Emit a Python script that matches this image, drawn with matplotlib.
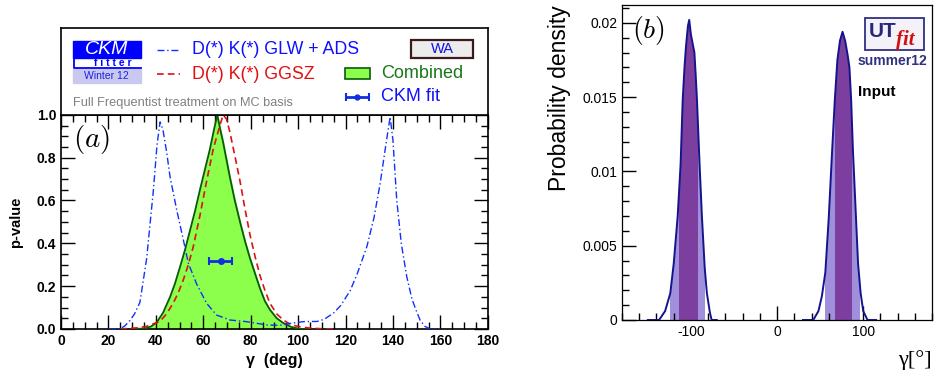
import matplotlib.pyplot as plt
import numpy as np
from matplotlib.patches import Rectangle, Polygon
from matplotlib.ticker import MultipleLocator

plt.rcParams['font.family'] = ['Liberation Sans', 'DejaVu Sans']
plt.rcParams['mathtext.fontset'] = 'cm'
plt.rcParams['axes.unicode_minus'] = False

# (a) CKMfitter p-value curves, gamma in degrees
glw_x = [20, 24.9, 27, 29.1, 31, 33.3, 36.1, 38.9, 40.5, 41.8, 43, 44.5, 46, 48.8, 51.6, 53.7, 57.2,
         61.4, 65.6, 71.2, 78.3, 86.7, 92, 97.9, 102, 105, 108, 111, 115, 118, 122, 125, 129, 132,
         134.6, 137, 138.8, 140, 141.6, 143.5, 145.8, 148, 150, 151.5, 153.5, 155.7, 160]
glw_y = [0, 0, 0.015, 0.04, 0.07, 0.125, 0.327, 0.64, 0.86, 0.967, 0.93, 0.83, 0.71, 0.556, 0.416, 0.307,
         0.21, 0.12, 0.065, 0.042, 0.034, 0.019, 0.017, 0.028, 0.034, 0.035, 0.035, 0.045, 0.075, 0.11,
         0.18, 0.26, 0.385, 0.52, 0.68, 0.86, 0.99, 0.88, 0.6, 0.4, 0.245, 0.14, 0.08, 0.04, 0.012, 0, 0]

ggsz_x = [25, 31.9, 36, 41.7, 44.5, 47.3, 49.5, 51.6, 53.7, 55.8, 58.6, 61.4, 64.2, 67, 68.4, 69.8,
          71.2, 73.3, 75.5, 77.6, 79.7, 81.8, 83.9, 86, 88.1, 91, 93.7, 97, 100.8, 105, 110, 115]
ggsz_y = [0, 0.005, 0.012, 0.035, 0.07, 0.12, 0.17, 0.23, 0.3, 0.385, 0.53, 0.69, 0.84, 0.95, 1.0, 0.98,
          0.92, 0.81, 0.69, 0.56, 0.44, 0.34, 0.25, 0.18, 0.12, 0.07, 0.042, 0.02, 0.01, 0.004, 0.001, 0]

comb_x = [30, 35.4, 38, 40.3, 43, 46, 48, 50.2, 52.3, 54.4, 56.5, 58.6, 60.7, 62.8, 64.5, 65.9, 67.2,
          68.4, 69.8, 71.2, 73.3, 75.5, 77.6, 79.7, 81.8, 83.9, 86, 88.1, 91, 93.7, 97, 100.8, 105]
comb_y = [0, 0.002, 0.012, 0.03, 0.075, 0.15, 0.21, 0.29, 0.37, 0.46, 0.55, 0.65, 0.745, 0.84, 0.93, 1.0,
          0.93, 0.87, 0.79, 0.71, 0.6, 0.5, 0.41, 0.33, 0.26, 0.19, 0.13, 0.09, 0.05, 0.028, 0.01, 0.0, 0.0]

ckm_fit = 67.3
ckm_lo, ckm_hi = 62.6, 72.3
ckm_level = 0.317

# (b) UTfit probability density
pk1_x = [-150, -137, -130, -124, -120, -115.4, -112, -109.6, -107.5, -105.8, -103.5, -102, -100, -98,
         -96, -94.5, -93, -90, -87.3, -84, -81.5, -78, -76, -70]
pk1_y = [0, 0, 0.0006, 0.0018, 0.0038, 0.007, 0.0105, 0.0148, 0.017, 0.0184, 0.0198, 0.0202, 0.0192,
         0.0186, 0.018, 0.0165, 0.0148, 0.0105, 0.007, 0.0035, 0.0018, 0.0005, 0, 0]
pk2_x = [30, 42, 48, 52, 56, 60, 64, 67, 70, 73, 76, 79, 82, 84, 86, 88, 91.5, 94, 97, 100, 105, 115]
pk2_y = [0, 0, 0.0006, 0.0016, 0.0032, 0.0069, 0.0115, 0.0148, 0.0175, 0.0188, 0.0194, 0.0188, 0.0178,
         0.017, 0.0148, 0.0115, 0.007, 0.0038, 0.0018, 0.0006, 0, 0]
band68 = [(-113.6, -92.2), (66.7, 87.2)]
band95 = [(-124.4, -83.3), (56.2, 96.5)]

fig = plt.figure(figsize=(9.34, 3.79), dpi=100)

# ---------------- panel (a) ----------------
ax = fig.add_axes([0.0653, 0.132, 0.457, 0.565])
ax.fill_between(comb_x, comb_y, color='#8cff4c', zorder=1)
ax.plot(comb_x, comb_y, color='#0a5a0a', lw=1.3, zorder=3)
ax.plot(ggsz_x, ggsz_y, color='#e01010', lw=1.2, ls=(0, (4, 2.5)), zorder=4)
ax.plot(glw_x, glw_y, color='#1030ff', lw=1.0, ls=(0, (5, 2, 1, 2)), zorder=4)
ax.errorbar([ckm_fit], [ckm_level], xerr=[[ckm_fit - ckm_lo], [ckm_hi - ckm_fit]], fmt='o',
            color='#1030e0', ms=4, capsize=3, lw=2, capthick=1.5, zorder=5)
ax.set_xlim(0, 180)
ax.set_ylim(0, 1)
ax.xaxis.set_major_locator(MultipleLocator(20))
ax.xaxis.set_minor_locator(MultipleLocator(5))
ax.yaxis.set_major_locator(MultipleLocator(0.2))
ax.yaxis.set_minor_locator(MultipleLocator(0.05))
ax.yaxis.set_major_formatter(plt.FormatStrFormatter('%.1f'))
ax.tick_params(which='both', direction='in', top=True, right=True, width=1)
ax.tick_params(which='major', length=10, labelsize=10)
ax.tick_params(which='minor', length=5)
for lab in ax.get_xticklabels() + ax.get_yticklabels():
    lab.set_fontweight('bold')
for s in ax.spines.values():
    s.set_linewidth(1.2)
ax.set_xlabel('γ  (deg)', fontsize=11.5, fontweight='bold', labelpad=4)
ax.set_ylabel('p-value', fontsize=10.5, fontweight='bold', labelpad=10)
ax.text(0.028, 0.883, r'$(a)$', transform=ax.transAxes, fontsize=21, va='center', ha='left')

# header / legend box above panel (a)
hd = fig.add_axes([0.0653, 0.6966, 0.457, 0.2296])
hd.set_xlim(0, 1)
hd.set_ylim(0, 1)
hd.set_xticks([])
hd.set_yticks([])
for s in hd.spines.values():
    s.set_linewidth(1.2)
hd.add_patch(Rectangle((0.028, 0.655), 0.159, 0.196, color='#0000ff'))
hd.text(0.107, 0.75, 'CKM', color='white', fontsize=14, style='italic', ha='center', va='center')
hd.plot([0.031, 0.031, 0.187], [0.655, 0.54, 0.54], color='#0000ff', lw=1.3)
hd.text(0.122, 0.6, 'f i t t e r', color='#0000ff', fontsize=7.5, fontweight='bold', ha='center', va='center')
hd.add_patch(Rectangle((0.028, 0.368), 0.159, 0.161, color='#c8c8f0'))
hd.text(0.107, 0.45, 'Winter 12', color='#2020e0', fontsize=7.5, ha='center', va='center')

hd.plot([0.225, 0.279], [0.747, 0.747], color='#1030ff', lw=1.0, ls=(0, (5, 2, 1, 2)))
hd.text(0.307, 0.747, 'D(*) K(*) GLW + ADS', color='#1010ff', fontsize=12.8, va='center')
hd.plot([0.225, 0.279], [0.471, 0.471], color='#e01010', lw=1.2, ls=(0, (4, 2.5)))
hd.text(0.307, 0.471, 'D(*) K(*) GGSZ', color='#e01010', fontsize=12.8, va='center')

hd.add_patch(Rectangle((0.665, 0.414), 0.059, 0.126, facecolor='#8cff4c', edgecolor='#0a5a0a', lw=1.2))
hd.text(0.749, 0.477, 'Combined', color='#187818', fontsize=13, va='center')
hd.errorbar([0.6945], [0.207], xerr=[[0.027]], fmt='o', color='#1030e0', ms=3.5, capsize=3, lw=2, capthick=1.5)
hd.text(0.749, 0.207, 'CKM fit', color='#1010ff', fontsize=13, va='center')

hd.add_patch(Rectangle((0.82, 0.655), 0.145, 0.207, facecolor='#ececec', edgecolor='#3a1a1a', lw=1.6))
hd.text(0.8925, 0.758, 'WA', color='#1010e0', fontsize=10.5, ha='center', va='center')
hd.text(0.028, 0.138, 'Full Frequentist treatment on MC basis', color='#808080', fontsize=9.2, va='center')

# ---------------- panel (b) ----------------
bx = fig.add_axes([0.666, 0.1557, 0.332, 0.831])
for px, py, b68, b95 in [(pk1_x, pk1_y, band68[0], band95[0]), (pk2_x, pk2_y, band68[1], band95[1])]:
    poly = Polygon(np.column_stack([px, py]), closed=True, facecolor='none', edgecolor='none')
    bx.add_patch(poly)
    r95 = bx.axvspan(b95[0], b95[1], color='#a090dc', lw=0, zorder=1)
    r95.set_clip_path(poly)
    r68 = bx.axvspan(b68[0], b68[1], color='#7d3f9f', lw=0, zorder=2)
    r68.set_clip_path(poly)
    bx.plot(px, py, color='#14148c', lw=1.4, zorder=3)
bx.set_xlim(-180, 180)
bx.set_ylim(0, 0.0212)
bx.xaxis.set_major_locator(MultipleLocator(100))
bx.xaxis.set_minor_locator(MultipleLocator(20))
bx.yaxis.set_major_locator(MultipleLocator(0.005))
bx.yaxis.set_minor_locator(MultipleLocator(0.001))
bx.yaxis.set_major_formatter(plt.FuncFormatter(lambda v, p: '0' if v == 0 else ('%g' % v)))
bx.tick_params(which='both', direction='in', width=1, labelsize=10)
bx.tick_params(which='major', length=10)
bx.tick_params(which='minor', length=5)
for s in bx.spines.values():
    s.set_linewidth(0.9)
bx.set_ylabel('Probability density', fontsize=16.5, loc='top', labelpad=8)
bx.set_xlabel('γ[°]', fontsize=16, family='Liberation Serif', loc='right', labelpad=8)
bx.text(0.032, 0.92, r'$(b)$', transform=bx.transAxes, fontsize=20, va='center', ha='left')

bx.add_patch(Rectangle((0.784, 0.857), 0.19, 0.102, transform=bx.transAxes,
                       facecolor='#f4f2f8', edgecolor='#303080', lw=1.3))
bx.text(0.795, 0.915, 'UT', transform=bx.transAxes, color='#28287a', fontsize=15,
        fontweight='bold', va='center', ha='left')
bx.text(0.885, 0.89, 'fit', transform=bx.transAxes, color='#d01010', fontsize=15,
        family='Liberation Serif', style='italic', fontweight='bold', va='center', ha='left')
bx.text(0.871, 0.822, 'summer12', transform=bx.transAxes, color='#303080', fontsize=10,
        fontweight='bold', ha='center', va='center')
bx.text(0.761, 0.724, 'Input', transform=bx.transAxes, color='black', fontsize=11,
        fontweight='bold', ha='left', va='center')

fig.savefig('out.png', dpi=100)
